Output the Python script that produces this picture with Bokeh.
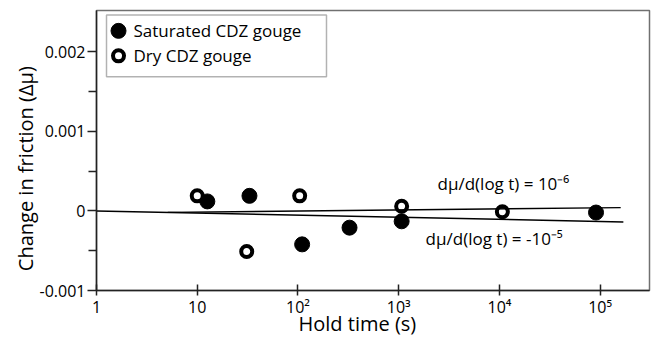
import math
from bokeh.plotting import figure
from bokeh.models import FixedTicker, Label, Range1d, BoxAnnotation
from bokeh.embed import file_html
from bokeh.resources import INLINE

# Data (hold time in seconds, change in friction)
sat_t = [12.6, 33, 110, 325, 1070, 91000]
sat_dmu = [0.00012, 0.00019, -0.00042, -0.00021, -0.00013, -0.00002]

dry_t = [10, 31, 104, 1070, 10700]
dry_dmu = [0.00019, -0.00051, 0.00019, 0.00006, -0.00001]

# Fit lines (end points)
fit_pos_t = [5.1, 160000]
fit_pos_dmu = [-0.0000176, 0.0000415]
fit_neg_t = [1, 170000]
fit_neg_dmu = [0.0, -0.000138]

x_ticks = [1, 10, 100, 1000, 10000, 100000]
x_tick_labels = ["1", "10", "10²", "10³", "10⁴", "10⁵"]
y_ticks = [-0.001, 0, 0.001, 0.002]
y_tick_labels = ["-0.001", "0", "0.001", "0.002"]

series_names = ["Saturated CDZ gouge", "Dry CDZ gouge"]

FONT = "Open Sans"
NB = "\u00a0"

p = figure(width=657, height=339, x_axis_type="log",
           x_range=Range1d(1, 309000), y_range=Range1d(-0.001, 0.00252),
           output_backend="svg", toolbar_location=None,
           min_border_left=96, min_border_right=8, min_border_top=10, min_border_bottom=49)

p.xgrid.visible = False
p.ygrid.visible = False
p.outline_line_color = "#707070"
p.outline_line_width = 1.5
p.background_fill_color = "white"
p.border_fill_color = "white"

# axes
xa = p.xaxis[0]
xa.ticker = FixedTicker(ticks=x_ticks, minor_ticks=[])
xa.major_label_overrides = {t: l for t, l in zip(x_ticks, x_tick_labels)}
xa.axis_label = "Hold time (s)" + NB * 6
ya = p.yaxis[0]
ya.ticker = FixedTicker(ticks=y_ticks, minor_ticks=[-0.0005, 0.0005, 0.0015])
ya.major_label_overrides = {t: l for t, l in zip(y_ticks, y_tick_labels)}
ya.axis_label = "Change in friction (Δμ)" + NB * 7

for ax in (xa, ya):
    ax.axis_line_color = "#222222"
    ax.axis_line_width = 1.5
    ax.major_tick_line_color = "#222222"
    ax.major_tick_line_width = 1.5
    ax.minor_tick_line_color = "#222222"
    ax.minor_tick_line_width = 1.5
    ax.major_label_text_font = FONT
    ax.major_label_text_font_size = "16px"
    ax.major_label_text_color = "black"
    ax.axis_label_text_font = FONT
    ax.axis_label_text_font_size = "20px"
    ax.axis_label_text_font_style = "normal"
    ax.axis_label_text_color = "black"

xa.major_tick_in = 6
xa.major_tick_out = 5
xa.major_label_standoff = 0
xa.axis_label_standoff = -11
ya.major_tick_in = 0
ya.major_tick_out = 9
ya.minor_tick_in = 0
ya.minor_tick_out = 8
ya.major_label_standoff = 2
ya.axis_label_standoff = -2

# points
r_sat = p.scatter(sat_t, sat_dmu, size=15, marker="circle", fill_color="black",
                  line_color="black", line_width=1)
r_dry = p.scatter(dry_t, dry_dmu, size=11, marker="circle", fill_color="white",
                  line_color="black", line_width=4)

# fit lines
p.line(fit_pos_t, fit_pos_dmu, line_color="black", line_width=1.4)
p.line(fit_neg_t, fit_neg_dmu, line_color="black", line_width=1.4)

p.add_layout(Label(x=2430, y=0.00034, text="dμ/d(log t) = 10⁻⁶", text_font=FONT,
                   text_font_size="17px", text_baseline="middle", text_align="left",
                   text_color="black"))
p.add_layout(Label(x=1850, y=-0.000352, text="dμ/d(log t) = -10⁻⁵", text_font=FONT,
                   text_font_size="17px", text_baseline="middle", text_align="left",
                   text_color="black"))

# legend (drawn by hand to match marker sizes)
p.add_layout(BoxAnnotation(left=1.257, right=192, bottom=0.001686, top=0.002465,
                           fill_alpha=0, line_color="black", line_width=1.5))
p.scatter([1.654], [0.002264], size=15, marker="circle", fill_color="black",
          line_color="black", line_width=1)
p.scatter([1.654], [0.00195], size=11, marker="circle", fill_color="white",
          line_color="black", line_width=4)
p.add_layout(Label(x=2.33, y=0.002264, text=series_names[0], text_font=FONT,
                   text_font_size="17px", text_baseline="middle", text_align="left",
                   text_color="black"))
p.add_layout(Label(x=2.33, y=0.00195, text=series_names[1], text_font=FONT,
                   text_font_size="17px", text_baseline="middle", text_align="left",
                   text_color="black"))

open("out.html", "w").write(file_html(p, INLINE))
